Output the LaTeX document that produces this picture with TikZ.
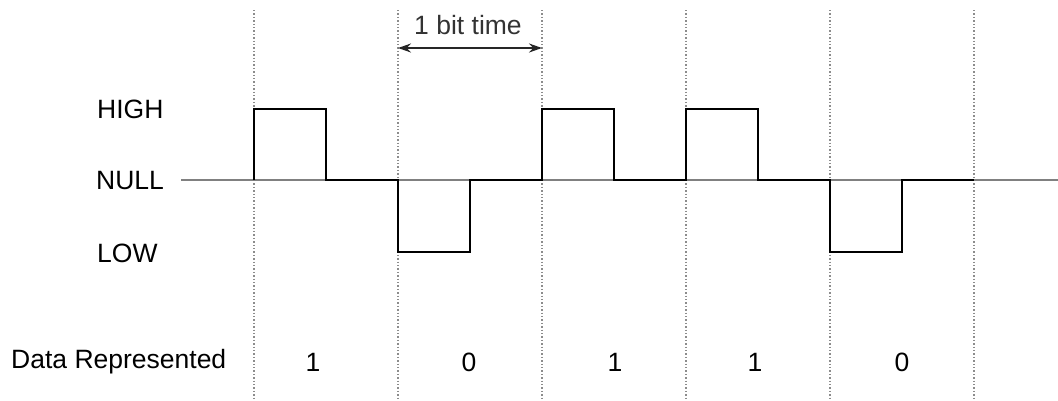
\documentclass[tikz,border=0pt]{standalone}
\usepackage{fontspec}
\setmainfont{Liberation Sans}
\usetikzlibrary{arrows.meta}
\begin{document}
\begin{tikzpicture}[x=1pt,y=-1pt,
  lbl/.style={font=\fontsize{26.5}{30}\selectfont, inner sep=0pt},
  grid/.style={draw=black!45, line width=1.4pt, dotted},
  nullline/.style={draw=black!50, line width=2pt},
  sig/.style={draw=black, line width=2pt, line join=miter},
  span/.style={draw=black!85, line width=2pt, {Stealth[length=13pt,width=9pt]}-{Stealth[length=13pt,width=9pt]}}]
\useasboundingbox (0,0) rectangle (1058,400);
% dotted bit boundaries
\foreach \x/\n in {254/a,398/b,542/c,686/d,830/e,974/f}{
  \coordinate (t\n) at (\x,10);
  \coordinate (b\n) at (\x,400);
  \draw[grid] (t\n) -- (b\n);
}
% null line
\coordinate (n0) at (181,180);
\coordinate (n1) at (1058,180);
\draw[nullline] (n0) -- (n1);
% signal
\draw[sig] (254,180) -- (254,109) -- (326,109) -- (326,180) -- (398,180)
  -- (398,252) -- (470,252) -- (470,180) -- (542,180)
  -- (542,109) -- (614,109) -- (614,180) -- (686,180)
  -- (686,109) -- (758,109) -- (758,180) -- (830,180)
  -- (830,252) -- (902,252) -- (902,180) -- (974,180);
% bit time arrow
\coordinate (ar0) at (398,48);
\coordinate (ar1) at (542,48);
\draw[span] (ar0) -- (ar1);
\node[lbl, text=black!80] (bt) at (468,25) {1 bit time};
% level labels
\node[lbl, anchor=west] (high) at (97,109) {HIGH};
\node[lbl, anchor=west] (null) at (96,181) {NULL};
\node[lbl, anchor=west] (low) at (97,253) {LOW};
% data
\node[lbl, anchor=west] (dr) at (11,362) {Data Represented};
\node[lbl] (d1) at (313,362) {1};
\node[lbl] (d2) at (469,362) {0};
\node[lbl] (d3) at (615,362) {1};
\node[lbl] (d4) at (755,362) {1};
\node[lbl] (d5) at (902,362) {0};
\end{tikzpicture}
\end{document}
